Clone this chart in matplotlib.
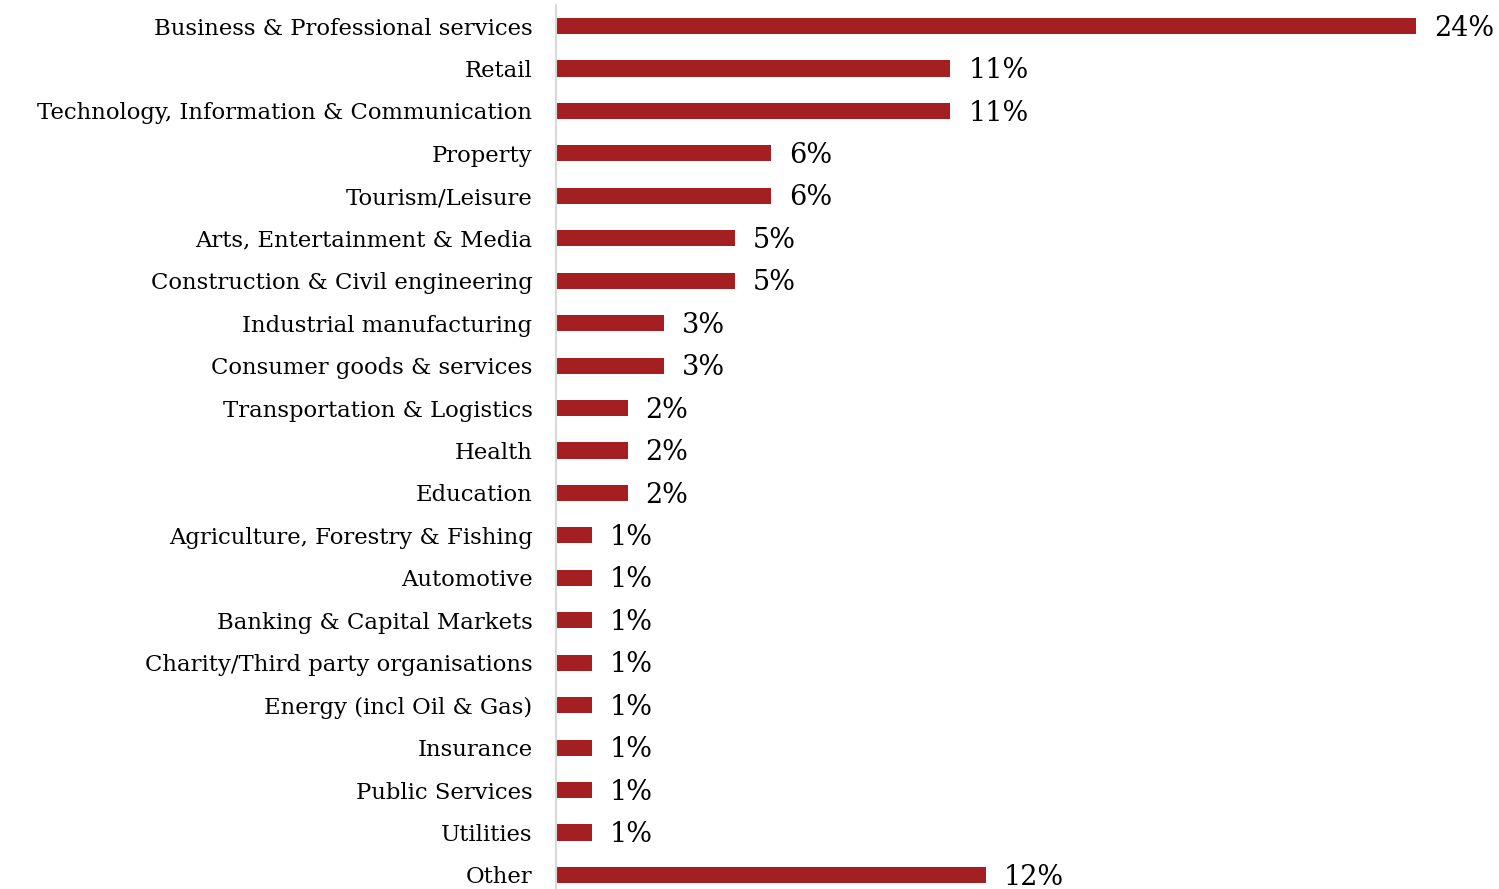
import matplotlib.pyplot as plt

sectors = [
    "Business & Professional services",
    "Retail",
    "Technology, Information & Communication",
    "Property",
    "Tourism/Leisure",
    "Arts, Entertainment & Media",
    "Construction & Civil engineering",
    "Industrial manufacturing",
    "Consumer goods & services",
    "Transportation & Logistics",
    "Health",
    "Education",
    "Agriculture, Forestry & Fishing",
    "Automotive",
    "Banking & Capital Markets",
    "Charity/Third party organisations",
    "Energy (incl Oil & Gas)",
    "Insurance",
    "Public Services",
    "Utilities",
    "Other",
]
shares = [24, 11, 11, 6, 6, 5, 5, 3, 3, 2, 2, 2, 1, 1, 1, 1, 1, 1, 1, 1, 12]

plt.rcParams['font.family'] = ['DejaVu Serif']

fig = plt.figure(figsize=(14.99, 8.89), dpi=100)
ax = fig.add_axes([556 / 1499, 0.0, 26 * 35.85 / 1499, 1 - 4.8 / 889])

ypos = list(range(len(sectors)))
ax.barh(ypos, shares, height=0.38, color='#a31f22')

for y, v in zip(ypos, shares):
    ax.text(v + 0.5, y + 0.05, f"{v}%", va='center', ha='left',
            fontsize=19.5, color='black')

ax.set_xlim(0, 26)
ax.set_ylim(20.33, -0.5)
ax.set_yticks(ypos)
ax.set_yticklabels(sectors, fontsize=16.4)
ax.tick_params(axis='y', length=0, pad=17)
ax.set_xticks([])

for side in ['top', 'right', 'bottom']:
    ax.spines[side].set_visible(False)
ax.spines['left'].set_color('#d9d9d9')
ax.spines['left'].set_linewidth(1.5)

fig.savefig('out.png', dpi=100)
